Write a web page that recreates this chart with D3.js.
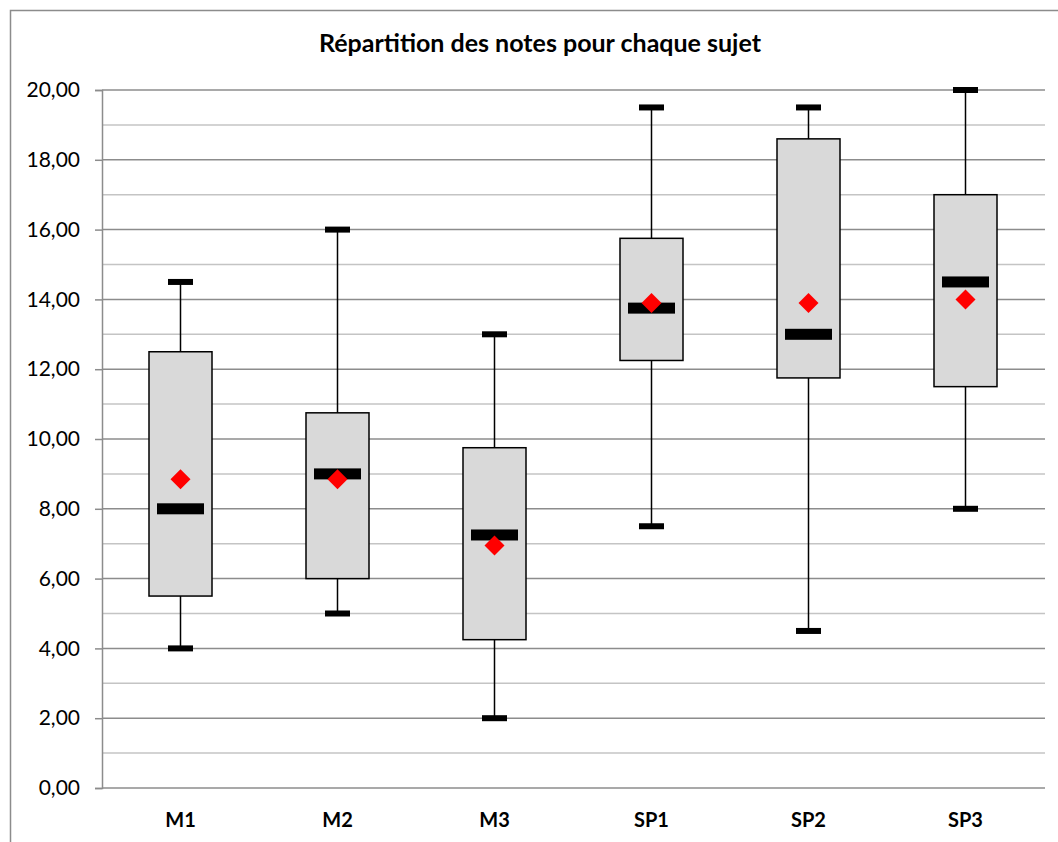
<!DOCTYPE html>
<html>
<head>
<meta charset="utf-8">
<script src="https://cdn.jsdelivr.net/npm/d3@7"></script>
<style>
  body { margin: 0; background: #fff; }
  svg text { font-family: Lato, "Open Sans", sans-serif; fill: #000; }
</style>
</head>
<body>
<div id="chart"></div>
<script>
// notes par sujet
const subjects = ["M1", "M2", "M3", "SP1", "SP2", "SP3"];
const minVals    = [4, 5, 2, 7.5, 4.5, 8];
const q1Vals     = [5.5, 6, 4.25, 12.25, 11.75, 11.5];
const medianVals = [8, 9, 7.25, 13.75, 13, 14.5];
const q3Vals     = [12.5, 10.75, 9.75, 15.75, 18.6, 17];
const maxVals    = [14.5, 16, 13, 19.5, 19.5, 20];
const meanVals   = [8.85, 8.85, 6.95, 13.9, 13.9, 14];
const yTicks = d3.range(0, 21, 2);
const yMinor = d3.range(1, 20, 2);

const W = 1058, H = 842;
const svg = d3.select("#chart").append("svg")
    .attr("width", W).attr("height", H);

// chart frame
svg.append("rect")
    .attr("x", 10.5).attr("y", 10.5)
    .attr("width", W + 20).attr("height", H + 20)
    .attr("fill", "#fff").attr("stroke", "#8c8c8c").attr("stroke-width", 1.5);

const x = d3.scaleBand().domain(subjects).range([102, 1044]);
const y = d3.scaleLinear().domain([0, 20]).range([788, 90]);

// minor gridlines
svg.append("g").selectAll("line").data(yMinor).enter().append("line")
    .attr("x1", 102).attr("x2", 1045)
    .attr("y1", d => y(d)).attr("y2", d => y(d))
    .attr("stroke", "#c4c4c4").attr("stroke-width", 1.5);

// major gridlines + axis
const yAxis = svg.append("g")
    .attr("transform", "translate(102,0)")
    .call(d3.axisLeft(y).tickValues(yTicks).tickSize(7).tickPadding(15)
        .tickFormat(d => d3.format(".2f")(d).replace(".", ",")));
yAxis.select(".domain").attr("stroke", "#8c8c8c").attr("stroke-width", 1.5);
yAxis.selectAll(".tick line").attr("stroke", "#8c8c8c").attr("stroke-width", 1.5);
yAxis.selectAll(".tick text").style("font-size", "21px").attr("font-family", "Lato");

svg.append("g").selectAll("line").data(yTicks).enter().append("line")
    .attr("x1", 102).attr("x2", 1045)
    .attr("y1", d => y(d)).attr("y2", d => y(d))
    .attr("stroke", "#8c8c8c").attr("stroke-width", 1.5);

// category labels
svg.append("g").selectAll("text").data(subjects).enter().append("text")
    .attr("x", d => x(d) + x.bandwidth() / 2)
    .attr("y", 827)
    .attr("text-anchor", "middle")
    .style("font-size", "20px").style("font-weight", "bold")
    .text(d => d);

// title
svg.append("text")
    .attr("x", 540).attr("y", 52)
    .attr("text-anchor", "middle")
    .style("font-size", "25px").style("font-weight", "bold")
    .text("Répartition des notes pour chaque sujet");

const data = subjects.map((s, i) => ({
    s, min: minVals[i], q1: q1Vals[i], med: medianVals[i],
    q3: q3Vals[i], max: maxVals[i], mean: meanVals[i]
}));

const boxW = 63, capW = 25, medW = 47;
const g = svg.append("g").selectAll("g").data(data).enter().append("g")
    .attr("transform", d => `translate(${x(d.s) + x.bandwidth() / 2},0)`);

// whiskers
g.append("line").attr("x1", 0).attr("x2", 0)
    .attr("y1", d => y(d.max)).attr("y2", d => y(d.min))
    .attr("stroke", "#000").attr("stroke-width", 1.5);

// caps
g.append("rect").attr("x", -capW / 2).attr("width", capW)
    .attr("y", d => y(d.max) - 3).attr("height", 6).attr("fill", "#000");
g.append("rect").attr("x", -capW / 2).attr("width", capW)
    .attr("y", d => y(d.min) - 3).attr("height", 6).attr("fill", "#000");

// boxes
g.append("rect").attr("x", -boxW / 2).attr("width", boxW)
    .attr("y", d => y(d.q3)).attr("height", d => y(d.q1) - y(d.q3))
    .attr("fill", "#d9d9d9").attr("stroke", "#000").attr("stroke-width", 1.5);

// medians
g.append("rect").attr("x", -medW / 2).attr("width", medW)
    .attr("y", d => y(d.med) - 5.5).attr("height", 11).attr("fill", "#000");

// means
g.append("path")
    .attr("d", d3.symbol().type(d3.symbolSquare).size(200))
    .attr("transform", d => `translate(0,${y(d.mean)}) rotate(45)`)
    .attr("fill", "#ff0000");
</script>
</body>
</html>
